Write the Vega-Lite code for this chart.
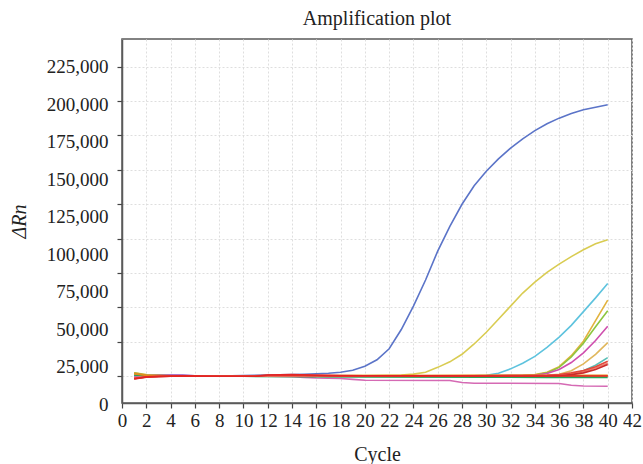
{
  "$schema": "https://vega.github.io/schema/vega-lite/v6.json",
  "width": 510,
  "height": 364,
  "autosize": {"type": "none"},
  "padding": {"left": 122, "top": 39, "right": 11, "bottom": 61},
  "background": "white",
  "title": {"text": "Amplification plot", "font": "Liberation Serif", "fontSize": 20, "fontWeight": "normal", "color": "#222", "baseline": "alphabetic", "offset": 14, "dy": 20, "anchor": "middle"},
  "config": {
    "view": {"stroke": "#5a5a5a", "strokeWidth": 1.5},
    "axis": {"labelFont": "Liberation Serif", "titleFont": "Liberation Serif", "labelColor": "#222", "titleColor": "#222", "labelFontSize": 19, "titleFontSize": 20, "titleFontWeight": "normal", "domainColor": "#5a5a5a", "domainWidth": 1.5, "tickColor": "#444", "tickSize": 5, "tickWidth": 1.2, "gridColor": "#dedede", "gridDash": [2, 2], "gridWidth": 1, "labelFlush": false, "labelOverlap": false}
  },
  "data": {"values": [
    {"s":"A","c":1,"v":-800},{"s":"A","c":2,"v":400},{"s":"A","c":3,"v":700},{"s":"A","c":4,"v":600},{"s":"A","c":5,"v":600},{"s":"A","c":6,"v":300},{"s":"A","c":7,"v":200},{"s":"A","c":8,"v":300},{"s":"A","c":9,"v":400},{"s":"A","c":10,"v":500},{"s":"A","c":11,"v":700},{"s":"A","c":12,"v":900},{"s":"A","c":13,"v":1100},{"s":"A","c":14,"v":1300},{"s":"A","c":15,"v":1500},{"s":"A","c":16,"v":1800},{"s":"A","c":17,"v":2200},{"s":"A","c":18,"v":3000},{"s":"A","c":19,"v":4400},{"s":"A","c":20,"v":7300},{"s":"A","c":21,"v":12000},{"s":"A","c":22,"v":20000},{"s":"A","c":23,"v":34000},{"s":"A","c":24,"v":51000},{"s":"A","c":25,"v":70000},{"s":"A","c":26,"v":91000},{"s":"A","c":27,"v":109000},{"s":"A","c":28,"v":125000},{"s":"A","c":29,"v":138500},{"s":"A","c":30,"v":149000},{"s":"A","c":31,"v":158000},{"s":"A","c":32,"v":165800},{"s":"A","c":33,"v":172500},{"s":"A","c":34,"v":178500},{"s":"A","c":35,"v":183500},{"s":"A","c":36,"v":187600},{"s":"A","c":37,"v":191000},{"s":"A","c":38,"v":193700},{"s":"A","c":39,"v":195500},{"s":"A","c":40,"v":197300},
    {"s":"B","c":1,"v":2500},{"s":"B","c":2,"v":1200},{"s":"B","c":3,"v":600},{"s":"B","c":4,"v":400},{"s":"B","c":5,"v":300},{"s":"B","c":6,"v":100},{"s":"B","c":8,"v":0},{"s":"B","c":10,"v":0},{"s":"B","c":12,"v":200},{"s":"B","c":14,"v":300},{"s":"B","c":16,"v":400},{"s":"B","c":18,"v":500},{"s":"B","c":20,"v":600},{"s":"B","c":22,"v":800},{"s":"B","c":23,"v":1000},{"s":"B","c":24,"v":1600},{"s":"B","c":25,"v":3000},{"s":"B","c":26,"v":6500},{"s":"B","c":27,"v":10500},{"s":"B","c":28,"v":16000},{"s":"B","c":29,"v":23500},{"s":"B","c":30,"v":32000},{"s":"B","c":31,"v":41500},{"s":"B","c":32,"v":51000},{"s":"B","c":33,"v":60500},{"s":"B","c":34,"v":68500},{"s":"B","c":35,"v":75500},{"s":"B","c":36,"v":81500},{"s":"B","c":37,"v":87000},{"s":"B","c":38,"v":92000},{"s":"B","c":39,"v":96300},{"s":"B","c":40,"v":99300},
    {"s":"C","c":1,"v":500},{"s":"C","c":2,"v":200},{"s":"C","c":5,"v":0},{"s":"C","c":10,"v":100},{"s":"C","c":15,"v":200},{"s":"C","c":20,"v":300},{"s":"C","c":25,"v":300},{"s":"C","c":29,"v":400},{"s":"C","c":30,"v":800},{"s":"C","c":31,"v":2200},{"s":"C","c":32,"v":5400},{"s":"C","c":33,"v":9500},{"s":"C","c":34,"v":14500},{"s":"C","c":35,"v":21000},{"s":"C","c":36,"v":28500},{"s":"C","c":37,"v":37000},{"s":"C","c":38,"v":47000},{"s":"C","c":39,"v":57000},{"s":"C","c":40,"v":67500},
    {"s":"D","c":1,"v":1500},{"s":"D","c":2,"v":600},{"s":"D","c":4,"v":300},{"s":"D","c":8,"v":0},{"s":"D","c":12,"v":200},{"s":"D","c":16,"v":300},{"s":"D","c":20,"v":300},{"s":"D","c":25,"v":400},{"s":"D","c":30,"v":500},{"s":"D","c":33,"v":700},{"s":"D","c":34,"v":1200},{"s":"D","c":35,"v":3000},{"s":"D","c":36,"v":7000},{"s":"D","c":37,"v":15000},{"s":"D","c":38,"v":25500},{"s":"D","c":39,"v":40500},{"s":"D","c":40,"v":55300},
    {"s":"E","c":1,"v":2000},{"s":"E","c":2,"v":800},{"s":"E","c":4,"v":200},{"s":"E","c":8,"v":0},{"s":"E","c":12,"v":100},{"s":"E","c":16,"v":200},{"s":"E","c":20,"v":200},{"s":"E","c":25,"v":300},{"s":"E","c":30,"v":400},{"s":"E","c":33,"v":600},{"s":"E","c":34,"v":1000},{"s":"E","c":35,"v":2500},{"s":"E","c":36,"v":6500},{"s":"E","c":37,"v":14000},{"s":"E","c":38,"v":24000},{"s":"E","c":39,"v":36000},{"s":"E","c":40,"v":47600},
    {"s":"F","c":1,"v":-500},{"s":"F","c":2,"v":0},{"s":"F","c":4,"v":500},{"s":"F","c":6,"v":100},{"s":"F","c":10,"v":0},{"s":"F","c":14,"v":300},{"s":"F","c":20,"v":200},{"s":"F","c":25,"v":300},{"s":"F","c":30,"v":400},{"s":"F","c":33,"v":500},{"s":"F","c":34,"v":800},{"s":"F","c":35,"v":2000},{"s":"F","c":36,"v":5000},{"s":"F","c":37,"v":10000},{"s":"F","c":38,"v":17000},{"s":"F","c":39,"v":26000},{"s":"F","c":40,"v":36400},
    {"s":"G","c":1,"v":1000},{"s":"G","c":3,"v":300},{"s":"G","c":8,"v":0},{"s":"G","c":14,"v":200},{"s":"G","c":20,"v":200},{"s":"G","c":25,"v":300},{"s":"G","c":30,"v":300},{"s":"G","c":34,"v":400},{"s":"G","c":35,"v":700},{"s":"G","c":36,"v":1500},{"s":"G","c":37,"v":4000},{"s":"G","c":38,"v":9000},{"s":"G","c":39,"v":16000},{"s":"G","c":40,"v":24500},
    {"s":"H","c":1,"v":0},{"s":"H","c":3,"v":200},{"s":"H","c":10,"v":0},{"s":"H","c":20,"v":200},{"s":"H","c":30,"v":300},{"s":"H","c":35,"v":400},{"s":"H","c":36,"v":700},{"s":"H","c":37,"v":1500},{"s":"H","c":38,"v":4000},{"s":"H","c":39,"v":8000},{"s":"H","c":40,"v":13600},
    {"s":"Q","c":1,"v":0},{"s":"Q","c":2,"v":500},{"s":"Q","c":3,"v":900},{"s":"Q","c":4,"v":1000},{"s":"Q","c":5,"v":900},{"s":"Q","c":6,"v":300},{"s":"Q","c":8,"v":0},{"s":"Q","c":15,"v":100},{"s":"Q","c":20,"v":200},{"s":"Q","c":30,"v":300},{"s":"Q","c":40,"v":400},
    {"s":"P","c":1,"v":-500},{"s":"P","c":3,"v":200},{"s":"P","c":5,"v":400},{"s":"P","c":8,"v":0},{"s":"P","c":12,"v":0},{"s":"P","c":14,"v":-300},{"s":"P","c":15,"v":-800},{"s":"P","c":16,"v":-1200},{"s":"P","c":18,"v":-1600},{"s":"P","c":19,"v":-2200},{"s":"P","c":20,"v":-2900},{"s":"P","c":27,"v":-3100},{"s":"P","c":28,"v":-4500},{"s":"P","c":29,"v":-5000},{"s":"P","c":36,"v":-5200},{"s":"P","c":37,"v":-6500},{"s":"P","c":38,"v":-7000},{"s":"P","c":40,"v":-7200},
    {"s":"N","c":1,"v":2500},{"s":"N","c":2,"v":1000},{"s":"N","c":4,"v":400},{"s":"N","c":10,"v":0},{"s":"N","c":20,"v":200},{"s":"N","c":30,"v":300},{"s":"N","c":40,"v":300},
    {"s":"M","c":1,"v":800},{"s":"M","c":3,"v":0},{"s":"M","c":10,"v":0},{"s":"M","c":20,"v":-500},{"s":"M","c":30,"v":-700},{"s":"M","c":35,"v":-800},{"s":"M","c":40,"v":-900},
    {"s":"L","c":1,"v":1800},{"s":"L","c":2,"v":700},{"s":"L","c":4,"v":300},{"s":"L","c":10,"v":200},{"s":"L","c":20,"v":500},{"s":"L","c":30,"v":700},{"s":"L","c":35,"v":800},{"s":"L","c":40,"v":800},
    {"s":"J","c":1,"v":-1000},{"s":"J","c":3,"v":0},{"s":"J","c":10,"v":100},{"s":"J","c":20,"v":200},{"s":"J","c":30,"v":300},{"s":"J","c":35,"v":500},{"s":"J","c":36,"v":900},{"s":"J","c":37,"v":1800},{"s":"J","c":38,"v":3400},{"s":"J","c":39,"v":6000},{"s":"J","c":40,"v":9500},
    {"s":"K","c":1,"v":-2000},{"s":"K","c":2,"v":-600},{"s":"K","c":4,"v":0},{"s":"K","c":11,"v":0},{"s":"K","c":12,"v":600},{"s":"K","c":15,"v":700},{"s":"K","c":18,"v":300},{"s":"K","c":25,"v":200},{"s":"K","c":30,"v":300},{"s":"K","c":35,"v":400},{"s":"K","c":36,"v":600},{"s":"K","c":37,"v":1200},{"s":"K","c":38,"v":2500},{"s":"K","c":39,"v":5000},{"s":"K","c":40,"v":8500},
    {"s":"I","c":1,"v":-1500},{"s":"I","c":2,"v":-500},{"s":"I","c":4,"v":0},{"s":"I","c":10,"v":0},{"s":"I","c":12,"v":800},{"s":"I","c":14,"v":900},{"s":"I","c":16,"v":600},{"s":"I","c":18,"v":300},{"s":"I","c":25,"v":300},{"s":"I","c":30,"v":400},{"s":"I","c":34,"v":600},{"s":"I","c":35,"v":800},{"s":"I","c":36,"v":1300},{"s":"I","c":37,"v":2500},{"s":"I","c":38,"v":4200},{"s":"I","c":39,"v":7000},{"s":"I","c":40,"v":11000},
    {"s":"O","c":1,"v":-1800},{"s":"O","c":2,"v":-400},{"s":"O","c":3,"v":0},{"s":"O","c":5,"v":300},{"s":"O","c":8,"v":0},{"s":"O","c":11,"v":0},{"s":"O","c":12,"v":1000},{"s":"O","c":14,"v":1200},{"s":"O","c":16,"v":800},{"s":"O","c":18,"v":500},{"s":"O","c":20,"v":400},{"s":"O","c":25,"v":300},{"s":"O","c":30,"v":200},{"s":"O","c":35,"v":200},{"s":"O","c":40,"v":200}
  ]},
  "mark": {"type": "line", "strokeWidth": 1.6, "clip": true},
  "encoding": {
    "x": {"field": "c", "type": "quantitative", "scale": {"domain": [0, 42], "nice": false, "zero": false},
      "axis": {"title": "Cycle", "values": [0,2,4,6,8,10,12,14,16,18,20,22,24,26,28,30,32,34,36,38,40,42], "labelPadding": 3, "titlePadding": 14, "labelAngle": 0}},
    "y": {"field": "v", "type": "quantitative", "scale": {"domain": [-19400, 245100], "nice": false, "zero": false},
      "axis": {"title": "ΔRn", "titleFontStyle": "italic", "values": [0,25000,50000,75000,100000,125000,150000,175000,200000,225000], "labelExpr": "format(datum.value, ',')", "labelPadding": 9, "titlePadding": 17, "labelOffset": {"expr": "(9 - datum.value/25000)*3.11"}}},
    "color": {"field": "s", "type": "nominal", "legend": null,
      "scale": {"domain": ["A","B","C","D","E","F","G","H","Q","P","N","M","L","J","K","I","O"],
        "range": ["#5b74c8","#d9cc52","#5ec3de","#e2b33e","#8dc63f","#cf4fae","#e0b75c","#58bfb6","#9f5fc0","#d56ab4","#b9a83a","#27a55a","#e88a1c","#ee7f6d","#c92b2b","#e2483a","#e32424"]}}
  }
}
